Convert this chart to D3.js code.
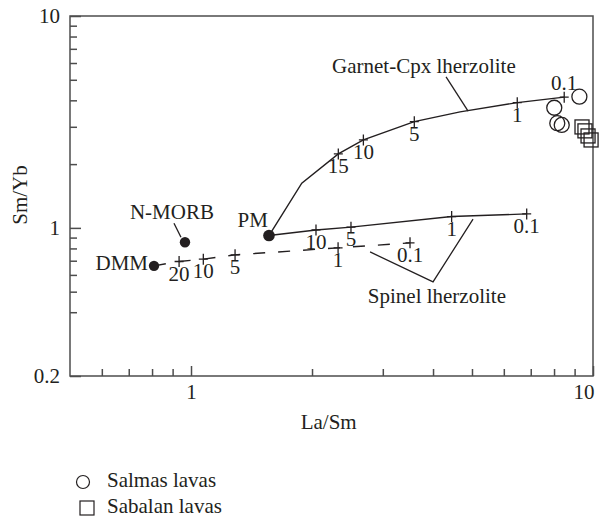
<!DOCTYPE html>
<html>
<head>
<meta charset="utf-8">
<script src="https://d3js.org/d3.v7.min.js"></script>
<style>
    body { margin: 0; background: #fff; }
    text { font-family: "Liberation Serif", "Times New Roman", serif; fill: #231f20; }
</style>
</head>
<body>
<svg id="drawing_region"></svg>
<script>
// sample points
const salmasLaSm = [9.25, 8.01, 8.15, 8.36];
const salmasSmYb = [4.16, 3.69, 3.12, 3.06];
const sabalanLaSm = [9.39, 9.55, 9.72, 9.89];
const sabalanSmYb = [2.995, 2.87, 2.716, 2.60];

// mantle sources
const sourceNames = ['DMM', 'N-MORB', 'PM'];
const sourceLaSm = [0.809, 0.966, 1.563];
const sourceSmYb = [0.662, 0.856, 0.92];

// melting curves ('' = no tick)
const garnetLaSm = [1.563, 1.886, 2.325, 2.684, 3.593, 4.67, 6.48, 8.48];
const garnetSmYb = [0.92, 1.625, 2.234, 2.60, 3.172, 3.53, 3.90, 4.14];
const garnetMelt = ['', '', '15', '10', '5', '', '1', '0.1'];

const spinelLaSm = [1.563, 2.046, 2.50, 4.45, 6.84];
const spinelSmYb = [0.92, 0.978, 1.008, 1.131, 1.164];
const spinelMelt = ['', '10', '5', '1', '0.1'];

const dmmLaSm = [0.809, 0.934, 1.073, 1.287, 2.322, 3.506];
const dmmSmYb = [0.662, 0.694, 0.712, 0.746, 0.805, 0.850];
const dmmMelt = ['', '20', '10', '5', '1', '0.1'];

const xMajorTicks = [1, 10];
const xMinorTicks = [0.6, 0.7, 0.8, 0.9, 2, 3, 4, 5, 6, 7, 8, 9];
const yMajorTicks = [0.2, 1, 10];
const yMinorTicks = [0.4, 0.5, 0.6, 0.7, 0.8, 0.9, 2, 3, 4, 5, 6, 7, 8, 9];

const legendLabels = ['Salmas lavas', 'Sabalan lavas'];

class LogChart {

    constructor( config ) {
        this.config = {
            parent: config.parent,
            width: config.width || 603,
            height: config.height || 517,
            margin: config.margin || {top:16, right:10, bottom:141, left:70}
        }
        this.init();
    }

    init() {
        let self = this;

        self.svg = d3.select( self.config.parent )
            .attr('width', self.config.width)
            .attr('height', self.config.height);

        self.chart = self.svg.append('g')
            .attr('transform', `translate(${self.config.margin.left}, ${self.config.margin.top})`);

        self.inner_width = self.config.width - self.config.margin.left - self.config.margin.right;
        self.inner_height = self.config.height - self.config.margin.top - self.config.margin.bottom;

        self.xscale = d3.scaleLog()
            .domain([0.5, 10])
            .range([0, self.inner_width]);

        self.yscale = d3.scaleLog()
            .domain([0.2, 10])
            .range([self.inner_height, 0]);
    }

    render() {
        let self = this;
        const axisColor = '#4d4d4d';
        const fs = '21px';

        // frame
        self.chart.append('rect')
            .attr('width', self.inner_width)
            .attr('height', self.inner_height)
            .attr('fill', 'none')
            .attr('stroke', axisColor)
            .attr('stroke-width', 1.5);

        // axes
        const xg = self.chart.append('g')
            .attr('transform', `translate(0, ${self.inner_height})`)
            .call( d3.axisBottom(self.xscale).tickValues(xMajorTicks)
                .tickSizeInner(-10).tickSizeOuter(0).tickPadding(8)
                .tickFormat(d3.format('')) );
        xg.selectAll('text').filter(d => d == 10)
            .attr('text-anchor', 'end').attr('x', 1);

        self.chart.append('g')
            .attr('transform', `translate(0, ${self.inner_height})`)
            .call( d3.axisBottom(self.xscale).tickValues(xMinorTicks)
                .tickSizeInner(-7).tickSizeOuter(0).tickFormat('') );

        self.chart.append('g')
            .call( d3.axisLeft(self.yscale).tickValues(yMajorTicks)
                .tickSizeInner(-11).tickSizeOuter(0).tickPadding(10)
                .tickFormat(d3.format('')) );

        self.chart.append('g')
            .call( d3.axisLeft(self.yscale).tickValues(yMinorTicks)
                .tickSizeInner(-7).tickSizeOuter(0).tickFormat('') );

        self.chart.selectAll('.domain').remove();
        self.chart.selectAll('.tick line')
            .attr('stroke', axisColor)
            .attr('stroke-width', 1.5);
        self.chart.selectAll('.tick text')
            .attr('font-size', fs)
            .attr('font-family', '"Liberation Serif", serif')
            .attr('fill', '#231f20');

        // axis titles
        self.chart.append('text')
            .attr('x', self.xscale(2.2))
            .attr('y', self.inner_height + 53)
            .attr('text-anchor', 'middle')
            .attr('font-size', fs)
            .text('La/Sm');

        self.chart.append('text')
            .attr('transform', `translate(-43, ${self.yscale(1.43)}) rotate(-90)`)
            .attr('text-anchor', 'middle')
            .attr('font-size', fs)
            .text('Sm/Yb');

        const line = d3.line()
            .x( d => self.xscale(d[0]) )
            .y( d => self.yscale(d[1]) );

        const curves = [
            { xs: garnetLaSm, ys: garnetSmYb, melt: garnetMelt, dash: null, above: ['0.1'] },
            { xs: spinelLaSm, ys: spinelSmYb, melt: spinelMelt, dash: null, above: [] },
            { xs: dmmLaSm, ys: dmmSmYb, melt: dmmMelt, dash: '12,13', above: [] }
        ];

        curves.forEach( c => {
            const pts = c.xs.map( (x, i) => [x, c.ys[i], c.melt[i]] );
            self.chart.append('path')
                .attr('d', line(pts))
                .attr('fill', 'none')
                .attr('stroke', '#231f20')
                .attr('stroke-width', 1.4)
                .attr('stroke-dasharray', c.dash);

            const ticks = self.chart.selectAll(null)
                .data( pts.filter(p => p[2] !== '') )
                .enter()
                .append('g')
                .attr('transform', p => `translate(${self.xscale(p[0])}, ${self.yscale(p[1])})`);

            ticks.append('path')
                .attr('d', 'M-4.5,0H4.5M0,-5.5V5.5')
                .attr('stroke', '#231f20')
                .attr('stroke-width', 1.3);

            ticks.append('text')
                .attr('y', p => c.above.includes(p[2]) ? -7 : 19)
                .attr('text-anchor', 'middle')
                .attr('font-size', fs)
                .text( p => p[2] );
        });

        // curve names with leader lines
        self.chart.append('text')
            .attr('x', self.xscale(2.243))
            .attr('y', self.yscale(5.38))
            .attr('font-size', fs)
            .text('Garnet-Cpx lherzolite');

        self.chart.append('path')
            .attr('d', line([[4.31, 5.16], [4.89, 3.56]]))
            .attr('fill', 'none')
            .attr('stroke', '#231f20')
            .attr('stroke-width', 1.3);

        self.chart.append('text')
            .attr('x', self.xscale(4.09))
            .attr('y', self.yscale(0.443))
            .attr('text-anchor', 'middle')
            .attr('font-size', fs)
            .text('Spinel lherzolite');

        self.chart.append('path')
            .attr('d', line([[2.789, 0.770], [4.00, 0.556], [5.03, 1.10]]))
            .attr('fill', 'none')
            .attr('stroke', '#231f20')
            .attr('stroke-width', 1.3);

        // mantle sources
        const src = sourceNames.map( (n, i) => ({ name: n, x: sourceLaSm[i], y: sourceSmYb[i] }) );

        self.chart.selectAll('.src')
            .data(src)
            .enter()
            .append('circle')
            .attr('class', 'src')
            .attr('cx', d => self.xscale(d.x))
            .attr('cy', d => self.yscale(d.y))
            .attr('r', d => d.name == 'PM' ? 5.8 : 5.2)
            .attr('fill', '#231f20');

        const srcLabel = {
            'DMM': { dx: -6, dy: 4, anchor: 'end' },
            'N-MORB': { dx: -13, dy: -23, anchor: 'middle' },
            'PM': { dx: -1, dy: -9, anchor: 'end' }
        };

        self.chart.selectAll('.srcl')
            .data(src)
            .enter()
            .append('text')
            .attr('class', 'srcl')
            .attr('x', d => self.xscale(d.x) + srcLabel[d.name].dx)
            .attr('y', d => self.yscale(d.y) + srcLabel[d.name].dy)
            .attr('text-anchor', d => srcLabel[d.name].anchor)
            .attr('font-size', fs)
            .text( d => d.name );

        const nm = src[1];
        self.chart.append('line')
            .attr('x1', self.xscale(nm.x) - 11)
            .attr('y1', self.yscale(nm.y) - 19)
            .attr('x2', self.xscale(nm.x) - 4)
            .attr('y2', self.yscale(nm.y) - 5)
            .attr('stroke', '#231f20')
            .attr('stroke-width', 1.3);

        // samples
        self.chart.selectAll('.salmas')
            .data( salmasLaSm.map((x, i) => [x, salmasSmYb[i]]) )
            .enter()
            .append('circle')
            .attr('class', 'salmas')
            .attr('cx', d => self.xscale(d[0]))
            .attr('cy', d => self.yscale(d[1]))
            .attr('r', 7.5)
            .attr('fill', 'none')
            .attr('stroke', '#231f20')
            .attr('stroke-width', 1.3);

        self.chart.selectAll('.sabalan')
            .data( sabalanLaSm.map((x, i) => [x, sabalanSmYb[i]]) )
            .enter()
            .append('rect')
            .attr('class', 'sabalan')
            .attr('x', d => self.xscale(d[0]) - 7)
            .attr('y', d => self.yscale(d[1]) - 7)
            .attr('width', 14)
            .attr('height', 14)
            .attr('fill', 'none')
            .attr('stroke', '#231f20')
            .attr('stroke-width', 1.3);

        // legend
        const legend = self.svg.append('g')
            .attr('transform', 'translate(83, 482)');

        legend.append('circle')
            .attr('r', 6.5)
            .attr('fill', 'none')
            .attr('stroke', '#231f20')
            .attr('stroke-width', 1.2);

        legend.append('rect')
            .attr('x', -3)
            .attr('y', 19)
            .attr('width', 14)
            .attr('height', 14)
            .attr('fill', 'none')
            .attr('stroke', '#231f20')
            .attr('stroke-width', 1.2);

        legend.selectAll('.lt')
            .data(legendLabels)
            .enter()
            .append('text')
            .attr('x', 24)
            .attr('y', (d, i) => 5 + i * 26)
            .attr('font-size', fs)
            .text( d => d );
    }
}

const chart = new LogChart({ parent: '#drawing_region', width: 603, height: 517 });
chart.render();
</script>
</body>
</html>
